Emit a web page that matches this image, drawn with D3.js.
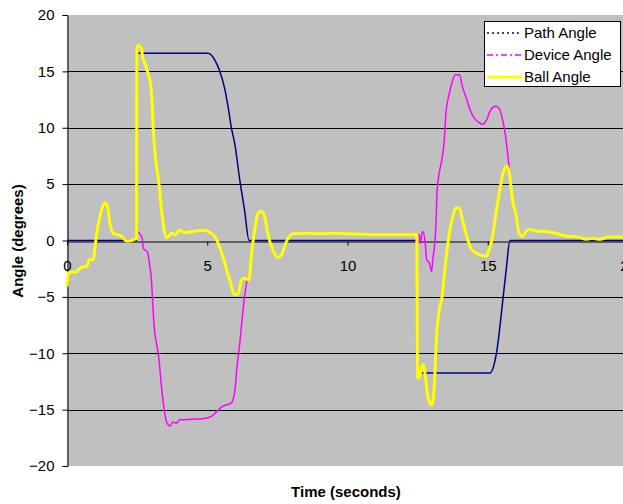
<!DOCTYPE html>
<html>
<head>
<meta charset="utf-8">
<script src="https://cdn.jsdelivr.net/npm/d3@7"></script>
<style>
  body { margin: 0; background: #fff; }
  svg { display: block; font-family: "Liberation Sans", Arial, sans-serif; }
</style>
</head>
<body>
<svg width="623" height="504"></svg>
<script>
// series data: [time (s), angle (deg)]
var pathAngle = [
  [0, 0], [2.49, 0], [2.50, 16.6], [5.03, 16.6], [5.27, 16.0], [5.44, 15.06], [5.62, 13.5],
  [5.74, 11.9], [5.86, 10.0], [5.98, 8.6], [6.16, 5.36], [6.33, 2.7], [6.49, 0],
  [12.47, 0], [12.48, -11.75], [15.08, -11.75], [15.31, -10], [15.55, -5], [15.67, -2.3],
  [15.79, 0], [20, 0]
]

var deviceAngle = [
  [2.48, 0.8], [2.60, 0.6], [2.69, 0.1], [2.72, -0.7], [2.86, -1.0], [2.95, -2.2], [3.01, -3.5],
  [3.07, -6.2], [3.13, -8.2], [3.21, -9.4], [3.28, -10.6], [3.37, -13.0], [3.45, -14.7],
  [3.55, -16.1], [3.67, -16.45], [3.78, -16.1], [3.90, -16.2], [4.02, -15.9], [4.49, -15.85],
  [4.85, -15.8], [5.15, -15.6], [5.32, -15.2], [5.56, -14.7], [5.86, -14.4], [5.98, -13.4],
  [6.06, -11.2], [6.16, -9.1], [6.25, -6.8], [6.33, -5.0], [6.43, -3.5], [6.49, -3.35],
  null,
  [12.47, 0.5], [12.56, 0.5], [12.59, -0.25], [12.66, 0.65], [12.70, 0.8], [12.78, -0.55],
  [12.82, -1.7], [12.92, -2.0], [13.00, -2.75], [13.04, -1.7], [13.10, -0.55], [13.16, 1.8],
  [13.19, 4.2], [13.27, 6.0], [13.36, 7.1], [13.45, 8.9], [13.51, 11.3], [13.63, 13.05],
  [13.75, 14.2], [13.84, 14.7], [13.99, 14.7], [14.10, 13.6], [14.22, 12.75], [14.37, 11.6],
  [14.52, 10.85], [14.67, 10.5], [14.81, 10.3], [14.96, 10.7], [15.11, 11.6], [15.29, 11.9],
  [15.41, 11.7], [15.53, 10.7], [15.62, 9.5], [15.71, 7.7], [15.77, 6.25]
]

var ballAngle = [
  [0.00, -4.1], [0.05, -2.9], [0.11, -2.8], [0.35, -2.8], [0.40, -2.6], [0.64, -2.3], [0.72, -2.3],
  [0.79, -1.7], [0.94, -1.7], [1.00, -0.55], [1.08, 0.9], [1.23, 2.7], [1.35, 3.35], [1.47, 2.7],
  [1.53, 1.5], [1.65, 0.65], [1.83, 0.5], [1.95, 0.35], [2.12, -0.05], [2.30, 0.0], [2.48, 0.2],
  [2.49, 17.0], [2.54, 17.3], [2.66, 17.0], [2.69, 16.3], [2.78, 15.7], [2.89, 14.8], [2.98, 13.9],
  [3.04, 11.9], [3.07, 10.1], [3.13, 8.0], [3.28, 5.0], [3.38, 2.5], [3.55, 0.25], [3.73, 0.65],
  [3.84, 0.5], [4.02, 0.9], [4.20, 0.7], [4.49, 0.8], [4.85, 0.9], [5.03, 0.8], [5.27, 0.35],
  [5.44, -0.55], [5.62, -2.0], [5.80, -3.5], [5.98, -4.8], [6.10, -4.7], [6.22, -3.5], [6.33, -3.35],
  [6.49, -3.5], [6.57, -1.4], [6.69, 0.9], [6.81, 2.4], [6.93, 2.6], [7.05, 2.1], [7.16, 0.6],
  [7.34, -0.85], [7.52, -1.5], [7.64, -1.3], [7.82, -0.1], [8.05, 0.6], [8.53, 0.65], [9.0, 0.6],
  [9.5, 0.65], [10.0, 0.6], [10.5, 0.55], [11.0, 0.5], [11.5, 0.5], [12.0, 0.5], [12.47, 0.5],
  [12.50, -12.2], [12.56, -12.1], [12.68, -11.0], [12.78, -12.1], [12.86, -13.85], [13.00, -14.6],
  [13.10, -12.7], [13.16, -9.1], [13.25, -6.5], [13.37, -5.0], [13.51, -1.7], [13.63, 0.65],
  [13.75, 2.1], [13.87, 2.9], [13.99, 2.85], [14.10, 1.8], [14.22, 0.65], [14.40, -0.7],
  [14.58, -1.1], [14.76, -1.3], [14.94, -1.4], [15.05, -0.85], [15.17, 0.35], [15.29, 2.4],
  [15.41, 4.2], [15.55, 6.0], [15.67, 6.6], [15.77, 6.0], [15.88, 3.6], [16.00, 2.4], [16.12, 0.65],
  [16.24, 0.35], [16.36, 0.8], [16.48, 1.0], [16.72, 0.85], [17.07, 0.8], [17.43, 0.65],
  [17.78, 0.4], [18.26, 0.3], [18.49, 0.1], [18.73, 0.2], [18.97, 0.1], [19.32, 0.3], [19.79, 0.3],
  [20, 0.3]
]

var xTicks = [0, 5, 10, 15, 20]
var yTicks = [-20, -15, -10, -5, 0, 5, 10, 15, 20]
var gridValues = [-15, -10, -5, 5, 10, 15]

var seriesNames = ["Path Angle", "Device Angle", "Ball Angle"]
var seriesColors = ["#000080", "#FF00FF", "#FFFF00"]

var plotLeft = 67, plotRight = 628, plotTop = 15, plotBottom = 466

var x = d3.scaleLinear().domain([0, 20]).range([plotLeft, plotRight])
var y = d3.scaleLinear().domain([-20, 20]).range([plotBottom, plotTop])

var svg = d3.select("svg")

// plot area
svg.append("rect")
  .attr("x", plotLeft).attr("y", plotTop)
  .attr("width", plotRight - plotLeft).attr("height", plotBottom - plotTop)
  .attr("fill", "#C0C0C0")

// gridlines
svg.append("g")
  .selectAll("line")
  .data(gridValues)
  .join("line")
  .attr("x1", plotLeft).attr("x2", plotRight)
  .attr("y1", d => Math.round(y(d)) + 0.5).attr("y2", d => Math.round(y(d)) + 0.5)
  .attr("stroke", "#000")
  .attr("stroke-width", 1)

// y axis
var yAxis = svg.append("g")
  .attr("transform", `translate(${plotLeft + 0.5},0)`)
  .call(d3.axisLeft(y).tickValues(yTicks).tickSize(5).tickPadding(8))
yAxis.select(".domain").attr("stroke", "#000")
yAxis.selectAll("text").attr("font-size", 15).attr("fill", "#000")
  .attr("font-family", '"Liberation Sans", Arial, sans-serif')

// x axis crossing at zero
var xAxis = svg.append("g")
  .attr("transform", `translate(0,${Math.round(y(0)) + 0.5})`)
  .call(d3.axisBottom(x).tickValues(xTicks).tickSize(4).tickPadding(15).tickSizeOuter(0))
xAxis.select(".domain").attr("stroke", "#000")
xAxis.selectAll("text").attr("font-size", 15).attr("fill", "#000")
  .attr("font-family", '"Liberation Sans", Arial, sans-serif')

var line = d3.line()
  .defined(d => d != null)
  .x(d => x(d[0]))
  .y(d => y(d[1]))
  .curve(d3.curveMonotoneX)

svg.append("path")
  .datum(pathAngle)
  .attr("fill", "none")
  .attr("stroke", seriesColors[0])
  .attr("stroke-width", 1.5)
  .attr("d", line)

svg.append("path")
  .datum(deviceAngle)
  .attr("fill", "none")
  .attr("stroke", seriesColors[1])
  .attr("stroke-width", 1.5)
  .attr("d", line)

svg.append("path")
  .datum(ballAngle)
  .attr("fill", "none")
  .attr("stroke", seriesColors[2])
  .attr("stroke-width", 3)
  .attr("stroke-linejoin", "round")
  .attr("d", line)

// axis titles
svg.append("text")
  .attr("x", 346).attr("y", 497)
  .attr("text-anchor", "middle")
  .attr("font-size", 15).attr("font-weight", "bold")
  .text("Time (seconds)")

svg.append("text")
  .attr("transform", "translate(23,241) rotate(-90)")
  .attr("text-anchor", "middle")
  .attr("font-size", 15).attr("font-weight", "bold")
  .text("Angle (degrees)")

// legend
var legend = svg.append("g")
legend.append("rect")
  .attr("x", 484.5).attr("y", 21.5)
  .attr("width", 136).attr("height", 65)
  .attr("fill", "#fff").attr("stroke", "#000")

var dashes = ["2,3", "6,3,2,3", null]
var legendItems = legend.selectAll("g.item")
  .data(seriesNames)
  .join("g")
  .attr("class", "item")
  .attr("transform", (d, i) => `translate(0,${33 + i * 22})`)

legendItems.append("line")
  .attr("x1", 487).attr("x2", 522)
  .attr("stroke", (d, i) => seriesColors[i])
  .attr("stroke-width", (d, i) => i == 2 ? 3 : 1.5)
  .attr("stroke-dasharray", (d, i) => dashes[i])

legendItems.append("text")
  .attr("x", 524).attr("dy", "0.35em")
  .attr("font-size", 15)
  .text(d => d)
</script>
</body>
</html>
